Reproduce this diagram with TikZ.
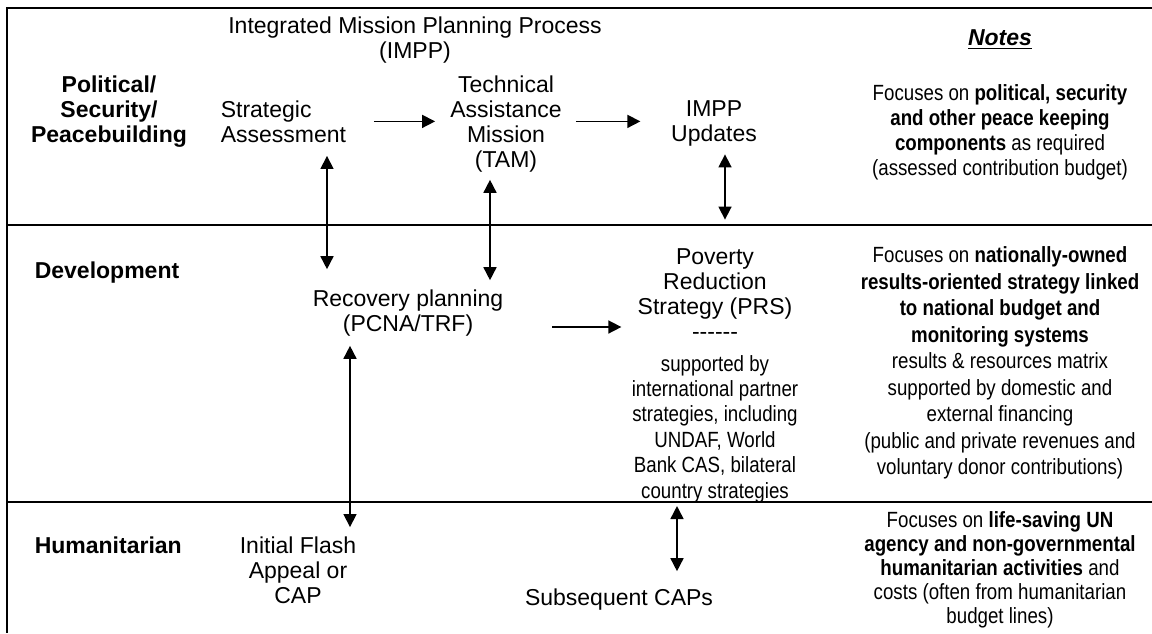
\documentclass[tikz,border=0pt]{standalone}
\usepackage{fontspec}
\setmainfont{Liberation Sans}
\newfontfamily\narrowfont[FakeStretch=0.85]{Liberation Sans}
\usetikzlibrary{arrows.meta,positioning}

\begin{document}
\begin{tikzpicture}[x=0.5pt, y=-0.5pt, line width=0.8pt,
  >={Triangle[length=6.5pt,width=6.5pt]},
  every node/.style={inner sep=0pt, align=center, font=\fontsize{11.5}{12.5}\selectfont},
  rowlabel/.style={font=\bfseries\fontsize{11.5}{12.5}\selectfont},
  note/.style={font=\narrowfont\fontsize{11}{#1}\selectfont},
  note/.default=12.5pt,
  frameline/.style={line width=1.2pt}]
  \useasboundingbox (0,0) rectangle (1152,633);

  \draw[frameline] (1152,8) -- (7,8) -- (7,633);
  \draw[frameline] (7,225) -- (1152,225);
  \draw[frameline] (7,502) -- (1152,502);

  \node (impp) at (415,39.8) {Integrated Mission Planning Process\\(IMPP)};
  \node[rowlabel] (polrow) at (109,111.3) {Political/\\Security/\\Peacebuilding};
  \node[anchor=west, align=left] (sa) at (220,121.4) {Strategic\\Assessment};
  \node (tam) at (506,123.8) {Technical\\Assistance\\Mission\\(TAM)};
  \node (upd) at (714,123.8) {IMPP\\Updates};
  \node (notes) at (1000,39.3) {\underline{\textbf{\textit{Notes}}}};
  \node[note] (note1) at (1000,132.8) {Focuses on \textbf{political, security}\\\textbf{and other peace keeping}\\\textbf{components} as required\\(assessed contribution budget)};

  \node[rowlabel, anchor=west] (devrow) at (34,272.3) {Development};
  \node (rec) at (408,312.8) {Recovery planning\\(PCNA/TRF)};
  \node (prs) at (715,294.4) {Poverty\\Reduction\\Strategy (PRS)\\-{}-{}-{}-{}-{}-};
  \node[note=12.7pt, below=6.9pt of prs] (prsnote) {supported by\\international partner\\strategies, including\\UNDAF, World\\Bank CAS, bilateral\\country strategies};
  \node[note=13.25pt] (note2) at (1000,363.3) {Focuses on \textbf{nationally-owned}\\\textbf{results-oriented strategy linked}\\\textbf{to national budget and}\\\textbf{monitoring systems}\\results \& resources matrix\\supported by domestic and\\external financing\\(public and private revenues and\\voluntary donor contributions)};

  \node[rowlabel, anchor=west] (humrow) at (34,544.9) {Humanitarian};
  \node (ifa) at (298,569.9) {Initial Flash\\Appeal or\\CAP};
  \node (caps) at (619,599.3) {Subsequent CAPs};
  \node[note=12pt] (note3) at (1000,570.3) {Focuses on \textbf{life-saving UN}\\\textbf{agency and non-governmental}\\\textbf{humanitarian activities} and\\costs (often from humanitarian\\budget lines)};

  \coordinate (colsa) at (327,0);
  \coordinate (coltam) at (490,0);
  \coordinate (colupd) at (725,0);
  \coordinate (colrec) at (350,0);
  \coordinate (colcaps) at (677,0);

  \draw[->, shorten <=13.5pt, shorten >=7.25pt] (sa.east) -- (sa.east -| tam.west);
  \draw[->, shorten <=6.75pt, shorten >=15pt] (tam.east |- sa.east) -- (upd.west |- sa.east);
  \draw[<->, shorten <=6.4pt, shorten >=9.8pt] (sa.south -| colsa) -- (rec.north -| colsa);
  \draw[<->, shorten <=3.5pt, shorten >=4.3pt] (tam.south -| coltam) -- (rec.north -| coltam);
  \draw[<->, shorten <=3.5pt, shorten >=14.3pt] (upd.south -| colupd) -- (prs.north -| colupd);
  \draw[->, shorten <=24pt, shorten >=7.75pt] ([yshift=-7.1pt]rec.east) -- ([yshift=-7.1pt]rec.east -| prs.west);
  \draw[<->, shorten <=4.5pt, shorten >=4.3pt] (rec.south -| colrec) -- (ifa.north -| colrec);
  \draw[<->, shorten <=1.25pt, shorten >=8.3pt] (prsnote.south -| colcaps) -- (caps.north -| colcaps);
\end{tikzpicture}
\end{document}
